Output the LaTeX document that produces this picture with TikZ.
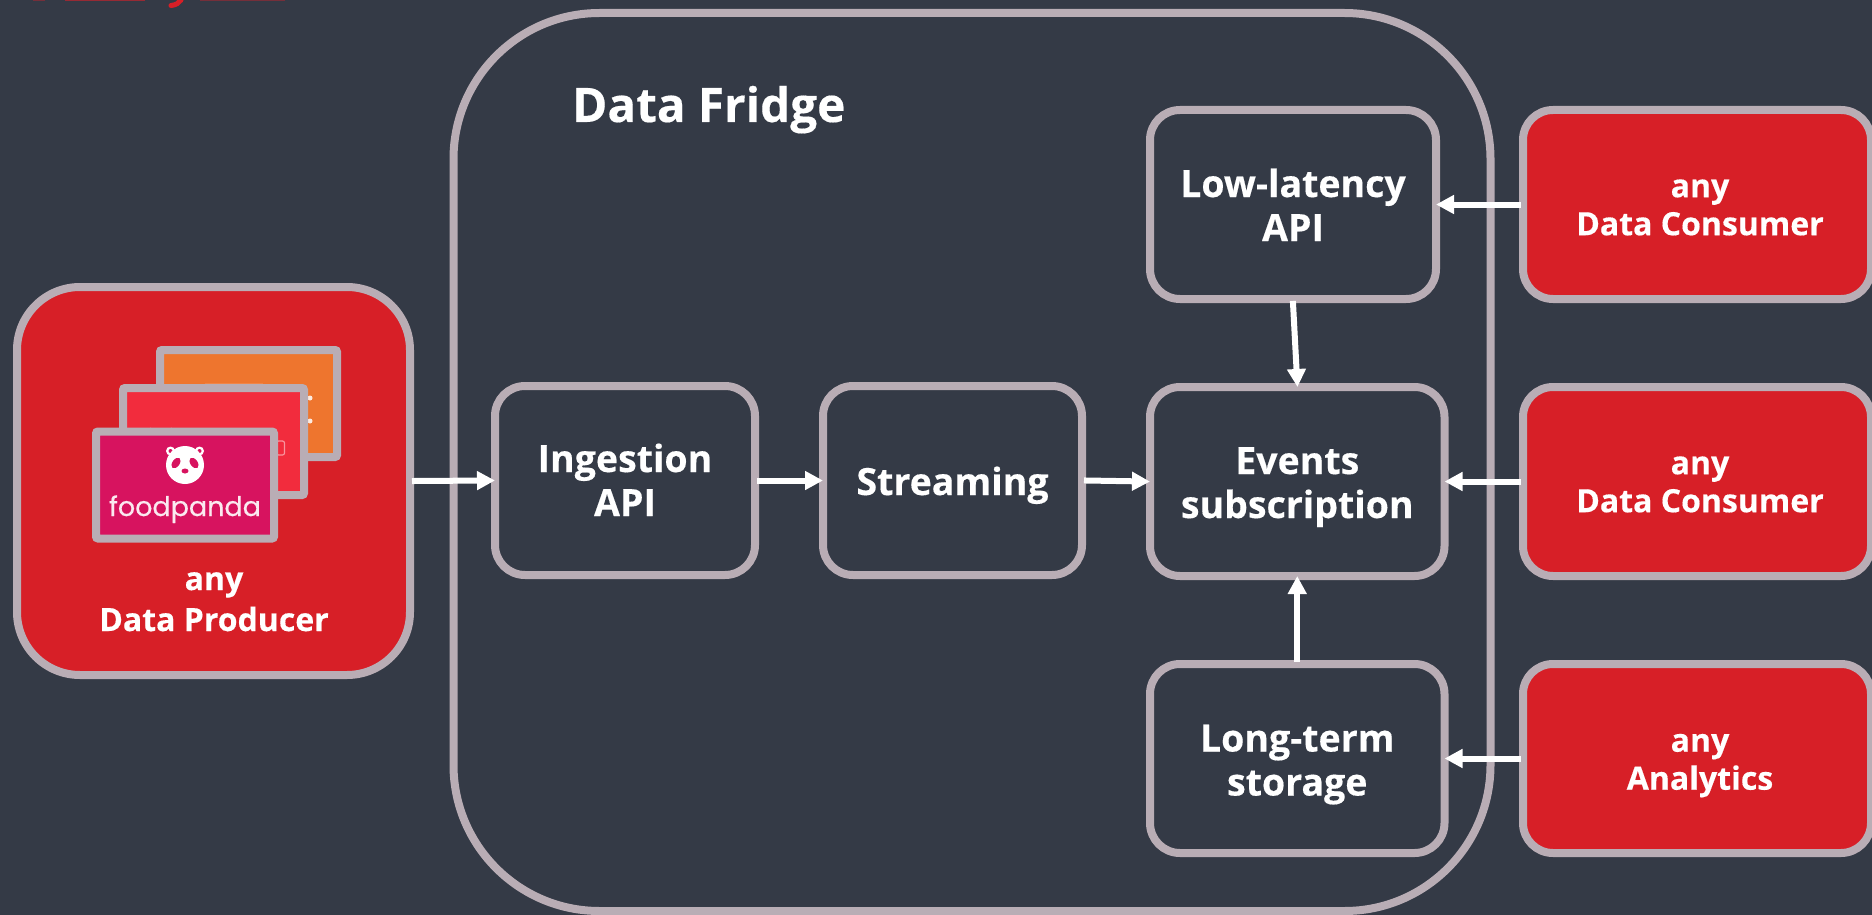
\documentclass[tikz,border=0pt]{standalone}
\usepackage{fontspec}
\setmainfont{Open Sans}[BoldFeatures={FakeBold=0.35}]
\newfontfamily\logofont{Poppins}[FakeBold=0.5]
\usetikzlibrary{arrows.meta}
\definecolor{bgc}{HTML}{343A46}
\definecolor{edgec}{HTML}{B9ADB5}
\definecolor{redc}{HTML}{D71F27}
\definecolor{cardo}{HTML}{EE752E}
\definecolor{cardr}{HTML}{F22C3D}
\definecolor{cardp}{HTML}{D7135F}
\definecolor{logow}{HTML}{FBE9F0}
% two-line label whose first baseline sits #1 below the node centre
\newcommand{\twolbl}[3]{\raisebox{#1}[0pt][0pt]{\begin{tabular}[t]{@{}c@{}}#2\\#3\end{tabular}}}
\tikzset{
  box/.style={draw=edgec,line width=8pt,rounded corners=30pt,minimum height=189pt,text=white,font=\fontsize{37.5}{44}\selectfont\bfseries},
  innerbox/.style={box,fill=bgc},
  extbox/.style={box,fill=redc,minimum width=348pt,font=\fontsize{32}{38}\selectfont\bfseries},
  card/.style={draw=edgec,line width=8pt,rounded corners=2pt,minimum width=178pt,minimum height=107pt,inner sep=0pt},
  flow/.style={draw=white,line width=6pt,-{Triangle[length=18pt,width=18pt]},shorten >=-4pt,shorten <=-2pt},
}
\begin{document}
\begin{tikzpicture}[x=1pt,y=-1pt]
\useasboundingbox (0,0) rectangle (1872,915);
\fill[bgc] (0,0) rectangle (1872,915);
% cut-off heading remnants at the top edge
\fill[redc!40!bgc] (33,0) rectangle (45,1);
\fill[redc!60!bgc] (65,0) rectangle (145,1);
\fill[redc!40!bgc] (200,0) rectangle (285,1);
\draw[redc,line width=5pt,line cap=round] (181,0) .. controls (179,3) and (176,5) .. (171,5.5);
% fridge
\node[draw=edgec,line width=8pt,rounded corners=146pt,minimum width=1037pt,minimum height=898pt] (fridge) at (972,462) {};
\node[text=white,font=\fontsize{47.6}{50}\selectfont\bfseries,anchor=base west,inner sep=0pt] (fridgetitle) at (572,122) {Data Fridge};
% producer
\node[box,fill=redc,minimum width=393pt,minimum height=388pt,rounded corners=63pt] (producer) at (213.5,481) {};
\node[card,fill=cardo,minimum width=177pt] (cardback) at (248.5,403.5) {};
\fill[white,opacity=.85] (310,398) circle (2.5);
\fill[white,opacity=.85] (310,421) circle (2.5);
\draw[white,opacity=.12,line width=2pt] (180,386) arc (180:360:8 and -3);
\draw[white,opacity=.12,line width=2pt] (205,384) -- (263,384);
\node[card,fill=cardr,minimum width=181pt] (cardmid) at (213.5,441.5) {};
\draw[white,opacity=.25,line width=2pt] (150,428) arc (180:360:11 and -3);
\draw[white,opacity=.5,line width=1.2pt,rounded corners=2pt] (276.5,441) rectangle (284.5,455);
\node[card,fill=cardp] (cardfront) at (185,485) {};
% panda
\fill[white] (170.5,451) circle (4.5);
\fill[white] (199.5,451) circle (4.5);
\fill[cardp] (170.5,451) circle (2);
\fill[cardp] (199.5,451) circle (2);
\fill[white] (185,465) circle (19);
\fill[cardp,rotate around={-35:(176,463)}] (176,463) ellipse (3.6 and 6);
\fill[cardp,rotate around={35:(194,463)}] (194,463) ellipse (3.6 and 6);
\fill[cardp] (185,471) ellipse (3.5 and 2.5);
\node[text=logow,font=\fontsize{27}{30}\logofont,anchor=base,inner sep=0pt] (logotext) at (185,516) {foodpanda};
\node[text=white,font=\fontsize{32}{41}\selectfont\bfseries,inner sep=0pt] (producertext) at (214,603) {\twolbl{13pt}{any}{Data Producer}};
% inner boxes
\node[innerbox,minimum width=260pt] (ingest) at (625,480.5) {\twolbl{8.5pt}{Ingestion}{API}};
\node[innerbox,minimum width=259pt] (stream) at (952.5,480.5) {\raisebox{-14.5pt}[0pt][0pt]{Streaming}};
\node[innerbox,minimum width=286pt] (lowlat) at (1293,204.5) {\twolbl{7.5pt}{Low-latency}{API}};
\node[innerbox,minimum width=294.5pt] (events) at (1297.25,481.5) {\twolbl{7.5pt}{Events}{subscription}};
\node[innerbox,minimum width=294.5pt] (longterm) at (1297.25,758.5) {\twolbl{7pt}{Long-term}{storage}};
% external
\node[extbox] (cons1) at (1697,204.5) {\hspace*{6pt}\twolbl{7.3pt}{any}{Data Consumer}};
\node[extbox] (cons2) at (1697,481.5) {\hspace*{6pt}\twolbl{7.3pt}{any}{Data Consumer}};
\node[extbox] (analytics) at (1697,758.5) {\hspace*{6pt}\twolbl{6.8pt}{any}{Analytics}};
% connectors
\draw[flow] (producer.east) -- (ingest.west);
\draw[flow] (ingest.east) -- (stream.west);
\draw[flow] (stream.east) -- (events.west);
\draw[flow] (lowlat.south) -- (events.north);
\draw[flow] (longterm.north) -- (events.south);
\draw[flow] (cons1.west) -- (lowlat.east);
\draw[flow] (cons2.west) -- (events.east);
\draw[flow] (analytics.west) -- (longterm.east);
\end{tikzpicture}
\end{document}
